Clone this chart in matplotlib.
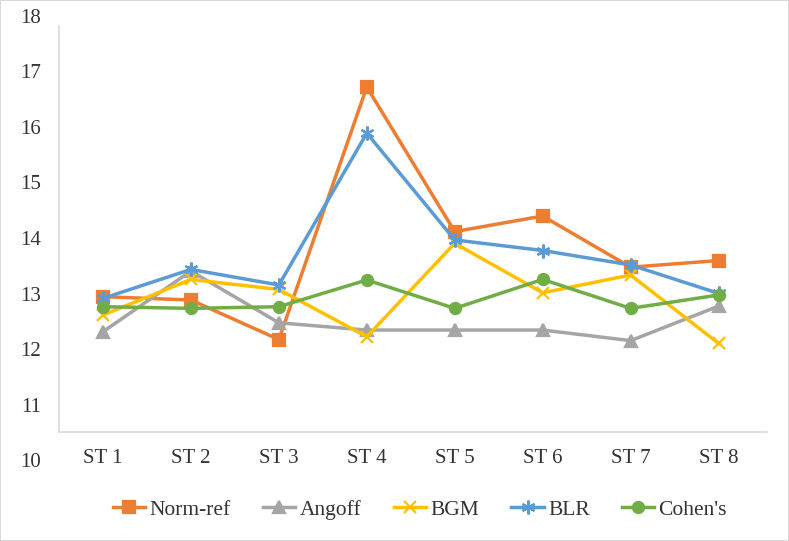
import numpy as np
import matplotlib.pyplot as plt

plt.rcParams['font.family'] = ['Liberation Serif', 'DejaVu Serif']

# categories and series values
stages = ['ST 1', 'ST 2', 'ST 3', 'ST 4', 'ST 5', 'ST 6', 'ST 7', 'ST 8']
norm_ref = [12.99, 12.93, 12.22, 16.76, 14.16, 14.44, 13.52, 13.64]
angoff = [12.36, 13.45, 12.52, 12.39, 12.39, 12.39, 12.20, 12.82]
bgm = [12.66, 13.30, 13.12, 12.27, 13.95, 13.06, 13.38, 12.15]
blr = [12.96, 13.48, 13.20, 15.93, 14.01, 13.82, 13.56, 13.05]
cohens = [12.81, 12.78, 12.81, 13.29, 12.78, 13.30, 12.78, 13.02]
y_ticks = [10, 11, 12, 13, 14, 15, 16, 17, 18]

series = [
    ('Norm-ref', norm_ref, '#ED7D31', 's', 8),
    ('Angoff', angoff, '#A5A5A5', '^', 8),
    ('BGM', bgm, '#FFC000', 'x', 9),
    ('BLR', blr, '#5B9BD5', (6, 2, 0), 10),
    ("Cohen's", cohens, '#70AD47', 'o', 8),
]

fig = plt.figure(figsize=(7.89, 5.41), dpi=100, linewidth=1.2, edgecolor='#d9d9d9')
ax = fig.add_axes([0.0748, 0.1442, 0.8972, 0.8225])

x = np.arange(len(stages))
for name, vals, col, mk, ms in series:
    ax.plot(x, vals, color=col, marker=mk, markersize=ms, linewidth=2.5,
            markeredgewidth=1.6, markeredgecolor=col, label=name)

ax.set_xlim(-0.5, 7.55)
ax.set_ylim(10, 18)
ax.set_yticks(y_ticks)
ax.set_xticks(x)
ax.set_xticklabels(stages)

# axis lines like the original (category axis sits above the "10" label)
for s in ['top', 'right']:
    ax.spines[s].set_visible(False)
ax.spines['bottom'].set_position(('data', 10.55))
ax.spines['left'].set_bounds(10.55, 17.85)
for s in ['bottom', 'left']:
    ax.spines[s].set_color('#d9d9d9')
    ax.spines[s].set_linewidth(1.2)

ax.tick_params(axis='x', length=0, pad=19, labelsize=15, colors='#333333')
ax.tick_params(axis='y', length=0, pad=13, labelsize=15, colors='#333333')
for t in ax.get_xticklabels():
    t.set_va('center')
for t in ax.get_yticklabels():
    t.set_va('center')

ax.legend(loc='center', bbox_to_anchor=(0.51, -0.105), ncol=5, frameon=False,
          fontsize=15.5, handlelength=1.5, handletextpad=0.2, columnspacing=1.5,
          labelcolor='#333333')

plt.savefig('out.png', dpi=100)
